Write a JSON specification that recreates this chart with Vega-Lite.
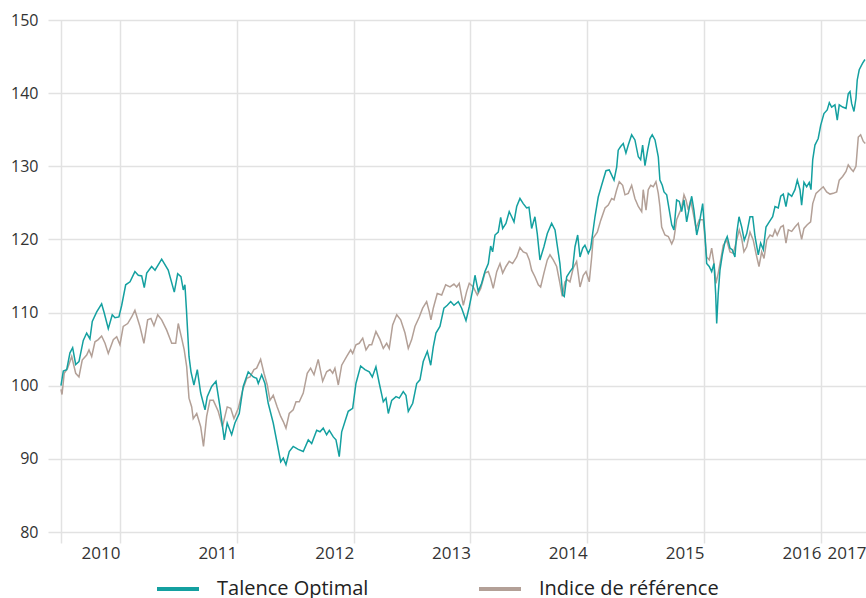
{
"$schema": "https://vega.github.io/schema/vega-lite/v6.json",
"width": 818,
"height": 512,
"autosize": {"type": "none"},
"padding": {"left": 48, "top": 20, "right": 0, "bottom": 66},
"background": "white",
"config": {"view": {"stroke": null}, "font": "Open Sans"},
"datasets": {
"talence": [
{"t":2010.495,"v":100.0},{"t":2010.515,"v":102.0},{"t":2010.544,"v":102.2},{"t":2010.572,"v":104.5},{"t":2010.595,"v":105.2},{"t":2010.621,"v":102.9},{"t":2010.649,"v":103.3},{"t":2010.686,"v":106.2},{"t":2010.715,"v":107.2},{"t":2010.743,"v":106.4},{"t":2010.763,"v":108.8},{"t":2010.801,"v":110.1},{"t":2010.843,"v":111.2},{"t":2010.866,"v":109.9},{"t":2010.900,"v":107.8},{"t":2010.934,"v":109.7},{"t":2010.957,"v":109.3},{"t":2010.991,"v":109.4},
{"t":2011.015,"v":111.0},{"t":2011.049,"v":113.8},{"t":2011.086,"v":114.2},{"t":2011.128,"v":115.6},{"t":2011.157,"v":115.1},{"t":2011.186,"v":115.0},{"t":2011.208,"v":113.4},{"t":2011.229,"v":115.4},{"t":2011.271,"v":116.3},{"t":2011.300,"v":115.8},{"t":2011.357,"v":117.3},{"t":2011.413,"v":115.8},{"t":2011.465,"v":112.8},{"t":2011.494,"v":115.3},{"t":2011.522,"v":114.9},{"t":2011.542,"v":113.1},{"t":2011.556,"v":113.8},{"t":2011.569,"v":110.4},{"t":2011.591,"v":104.0},{"t":2011.608,"v":101.9},{"t":2011.633,"v":100.1},{"t":2011.662,"v":102.2},{"t":2011.691,"v":99.0},{"t":2011.728,"v":96.7},{"t":2011.747,"v":98.5},{"t":2011.785,"v":99.9},{"t":2011.822,"v":100.6},{"t":2011.856,"v":97.1},{"t":2011.893,"v":92.6},{"t":2011.918,"v":94.9},{"t":2011.956,"v":93.3},{"t":2011.984,"v":94.9},
{"t":2012.021,"v":96.2},{"t":2012.055,"v":99.9},{"t":2012.098,"v":101.9},{"t":2012.141,"v":101.2},{"t":2012.170,"v":101.0},{"t":2012.184,"v":100.3},{"t":2012.213,"v":101.5},{"t":2012.241,"v":100.3},{"t":2012.269,"v":97.6},{"t":2012.312,"v":94.9},{"t":2012.346,"v":92.1},{"t":2012.376,"v":89.6},{"t":2012.398,"v":90.1},{"t":2012.421,"v":89.2},{"t":2012.449,"v":91.0},{"t":2012.483,"v":91.7},{"t":2012.526,"v":91.3},{"t":2012.569,"v":91.0},{"t":2012.612,"v":92.6},{"t":2012.641,"v":92.1},{"t":2012.684,"v":93.9},{"t":2012.712,"v":93.7},{"t":2012.740,"v":94.2},{"t":2012.769,"v":93.3},{"t":2012.792,"v":93.9},{"t":2012.826,"v":93.0},{"t":2012.849,"v":92.6},{"t":2012.877,"v":90.3},{"t":2012.898,"v":93.7},{"t":2012.926,"v":95.1},{"t":2012.954,"v":96.5},{"t":2012.992,"v":96.9},
{"t":2013.020,"v":100.3},{"t":2013.060,"v":102.7},{"t":2013.097,"v":102.2},{"t":2013.134,"v":101.9},{"t":2013.160,"v":101.2},{"t":2013.191,"v":102.6},{"t":2013.220,"v":100.3},{"t":2013.254,"v":97.8},{"t":2013.277,"v":98.3},{"t":2013.297,"v":96.2},{"t":2013.326,"v":98.0},{"t":2013.363,"v":98.5},{"t":2013.391,"v":98.3},{"t":2013.425,"v":99.2},{"t":2013.448,"v":98.7},{"t":2013.468,"v":96.5},{"t":2013.506,"v":97.6},{"t":2013.540,"v":100.3},{"t":2013.568,"v":100.8},{"t":2013.596,"v":103.3},{"t":2013.631,"v":104.7},{"t":2013.660,"v":102.8},{"t":2013.682,"v":105.3},{"t":2013.705,"v":107.2},{"t":2013.739,"v":108.1},{"t":2013.773,"v":110.6},{"t":2013.802,"v":111.0},{"t":2013.831,"v":111.5},{"t":2013.859,"v":111.0},{"t":2013.896,"v":111.5},{"t":2013.925,"v":110.6},{"t":2013.962,"v":108.9},{"t":2013.990,"v":110.8},
{"t":2014.019,"v":113.1},{"t":2014.039,"v":115.1},{"t":2014.067,"v":112.9},{"t":2014.096,"v":114.0},{"t":2014.124,"v":115.6},{"t":2014.153,"v":116.7},{"t":2014.173,"v":119.1},{"t":2014.190,"v":118.3},{"t":2014.210,"v":120.6},{"t":2014.238,"v":121.0},{"t":2014.259,"v":123.0},{"t":2014.276,"v":121.5},{"t":2014.304,"v":122.2},{"t":2014.332,"v":123.8},{"t":2014.353,"v":123.1},{"t":2014.373,"v":122.4},{"t":2014.396,"v":124.5},{"t":2014.424,"v":125.6},{"t":2014.452,"v":124.9},{"t":2014.481,"v":124.3},{"t":2014.501,"v":124.4},{"t":2014.524,"v":121.5},{"t":2014.552,"v":123.1},{"t":2014.572,"v":120.8},{"t":2014.595,"v":117.2},{"t":2014.629,"v":119.0},{"t":2014.658,"v":120.8},{"t":2014.695,"v":122.2},{"t":2014.724,"v":121.3},{"t":2014.743,"v":119.2},{"t":2014.766,"v":116.7},{"t":2014.790,"v":112.4},{"t":2014.803,"v":112.2},{"t":2014.824,"v":114.9},{"t":2014.852,"v":115.6},{"t":2014.875,"v":116.1},{"t":2014.895,"v":119.0},{"t":2014.918,"v":120.6},{"t":2014.938,"v":117.6},{"t":2014.961,"v":118.8},{"t":2014.980,"v":119.2},
{"t":2015.009,"v":118.1},{"t":2015.029,"v":118.8},{"t":2015.066,"v":123.1},{"t":2015.094,"v":125.8},{"t":2015.123,"v":127.4},{"t":2015.160,"v":129.4},{"t":2015.188,"v":129.5},{"t":2015.229,"v":128.1},{"t":2015.252,"v":129.9},{"t":2015.265,"v":132.2},{"t":2015.286,"v":132.7},{"t":2015.308,"v":133.1},{"t":2015.331,"v":131.8},{"t":2015.351,"v":132.9},{"t":2015.380,"v":134.3},{"t":2015.408,"v":133.6},{"t":2015.437,"v":131.3},{"t":2015.457,"v":130.9},{"t":2015.474,"v":132.9},{"t":2015.494,"v":130.1},{"t":2015.517,"v":132.2},{"t":2015.537,"v":133.8},{"t":2015.556,"v":134.3},{"t":2015.580,"v":133.6},{"t":2015.608,"v":131.3},{"t":2015.622,"v":128.1},{"t":2015.642,"v":127.4},{"t":2015.657,"v":126.5},{"t":2015.680,"v":126.1},{"t":2015.702,"v":124.0},{"t":2015.723,"v":122.0},{"t":2015.742,"v":121.3},{"t":2015.765,"v":125.4},{"t":2015.788,"v":125.2},{"t":2015.808,"v":123.8},{"t":2015.828,"v":125.4},{"t":2015.851,"v":122.4},{"t":2015.873,"v":124.3},{"t":2015.894,"v":125.9},{"t":2015.913,"v":124.0},{"t":2015.937,"v":120.6},{"t":2015.959,"v":122.2},{"t":2015.988,"v":124.9},
{"t":2016.008,"v":120.6},{"t":2016.022,"v":116.7},{"t":2016.044,"v":116.3},{"t":2016.065,"v":115.6},{"t":2016.085,"v":116.7},{"t":2016.099,"v":112.6},{"t":2016.108,"v":108.5},{"t":2016.121,"v":112.6},{"t":2016.136,"v":115.8},{"t":2016.156,"v":117.9},{"t":2016.179,"v":119.7},{"t":2016.198,"v":120.4},{"t":2016.222,"v":118.8},{"t":2016.241,"v":118.6},{"t":2016.264,"v":117.6},{"t":2016.279,"v":120.8},{"t":2016.299,"v":123.1},{"t":2016.322,"v":121.7},{"t":2016.344,"v":119.9},{"t":2016.365,"v":120.8},{"t":2016.393,"v":123.1},{"t":2016.416,"v":123.1},{"t":2016.436,"v":120.4},{"t":2016.464,"v":117.9},{"t":2016.484,"v":119.5},{"t":2016.507,"v":118.6},{"t":2016.530,"v":121.7},{"t":2016.558,"v":122.4},{"t":2016.587,"v":123.1},{"t":2016.607,"v":124.5},{"t":2016.635,"v":124.3},{"t":2016.656,"v":125.9},{"t":2016.678,"v":126.2},{"t":2016.701,"v":124.5},{"t":2016.721,"v":126.3},{"t":2016.750,"v":125.9},{"t":2016.778,"v":126.8},{"t":2016.798,"v":128.1},{"t":2016.821,"v":126.8},{"t":2016.835,"v":124.7},{"t":2016.855,"v":127.8},{"t":2016.878,"v":127.2},{"t":2016.900,"v":127.8},{"t":2016.915,"v":126.8},{"t":2016.930,"v":130.9},{"t":2016.949,"v":132.9},{"t":2016.977,"v":133.8},{"t":2016.998,"v":135.6},
{"t":2017.026,"v":137.2},{"t":2017.054,"v":137.7},{"t":2017.072,"v":138.7},{"t":2017.092,"v":138.1},{"t":2017.120,"v":138.4},{"t":2017.140,"v":136.3},{"t":2017.157,"v":138.4},{"t":2017.186,"v":138.1},{"t":2017.215,"v":137.9},{"t":2017.234,"v":139.9},{"t":2017.249,"v":140.2},{"t":2017.263,"v":138.6},{"t":2017.283,"v":137.5},{"t":2017.300,"v":139.3},{"t":2017.311,"v":141.8},{"t":2017.328,"v":143.2},{"t":2017.357,"v":144.1},{"t":2017.377,"v":144.6}
],
"indice": [
{"t":2010.495,"v":99.5},{"t":2010.504,"v":98.8},{"t":2010.523,"v":101.7},{"t":2010.552,"v":102.4},{"t":2010.587,"v":104.0},{"t":2010.621,"v":101.7},{"t":2010.649,"v":101.2},{"t":2010.677,"v":103.5},{"t":2010.715,"v":104.2},{"t":2010.735,"v":104.9},{"t":2010.758,"v":104.0},{"t":2010.786,"v":106.0},{"t":2010.814,"v":106.3},{"t":2010.843,"v":106.8},{"t":2010.872,"v":105.8},{"t":2010.900,"v":104.4},{"t":2010.943,"v":106.3},{"t":2010.972,"v":106.7},
{"t":2011.000,"v":105.6},{"t":2011.028,"v":108.1},{"t":2011.066,"v":108.5},{"t":2011.100,"v":109.4},{"t":2011.128,"v":110.3},{"t":2011.171,"v":108.1},{"t":2011.205,"v":105.8},{"t":2011.237,"v":109.0},{"t":2011.265,"v":109.2},{"t":2011.291,"v":108.2},{"t":2011.323,"v":109.7},{"t":2011.357,"v":109.0},{"t":2011.400,"v":107.6},{"t":2011.443,"v":105.8},{"t":2011.477,"v":105.8},{"t":2011.499,"v":108.5},{"t":2011.528,"v":106.5},{"t":2011.550,"v":104.9},{"t":2011.571,"v":102.6},{"t":2011.591,"v":98.3},{"t":2011.614,"v":97.1},{"t":2011.627,"v":95.5},{"t":2011.657,"v":96.2},{"t":2011.691,"v":94.4},{"t":2011.715,"v":91.7},{"t":2011.742,"v":95.8},{"t":2011.770,"v":98.0},{"t":2011.799,"v":98.0},{"t":2011.841,"v":96.5},{"t":2011.877,"v":94.4},{"t":2011.918,"v":97.1},{"t":2011.948,"v":96.9},{"t":2011.976,"v":95.5},
{"t":2012.013,"v":96.9},{"t":2012.050,"v":99.4},{"t":2012.085,"v":101.0},{"t":2012.113,"v":101.2},{"t":2012.147,"v":102.2},{"t":2012.170,"v":102.4},{"t":2012.204,"v":103.6},{"t":2012.233,"v":101.7},{"t":2012.261,"v":100.1},{"t":2012.284,"v":98.0},{"t":2012.312,"v":98.7},{"t":2012.346,"v":97.1},{"t":2012.376,"v":95.8},{"t":2012.398,"v":95.1},{"t":2012.421,"v":94.2},{"t":2012.449,"v":96.2},{"t":2012.483,"v":96.7},{"t":2012.507,"v":97.8},{"t":2012.535,"v":97.8},{"t":2012.569,"v":99.0},{"t":2012.603,"v":101.7},{"t":2012.632,"v":102.4},{"t":2012.661,"v":101.5},{"t":2012.697,"v":103.6},{"t":2012.735,"v":100.6},{"t":2012.769,"v":101.9},{"t":2012.798,"v":102.2},{"t":2012.821,"v":101.7},{"t":2012.840,"v":102.4},{"t":2012.869,"v":100.1},{"t":2012.898,"v":102.8},{"t":2012.941,"v":104.0},{"t":2012.975,"v":104.9},{"t":2012.992,"v":104.4},
{"t":2013.020,"v":105.6},{"t":2013.048,"v":105.8},{"t":2013.078,"v":106.5},{"t":2013.106,"v":104.9},{"t":2013.134,"v":105.6},{"t":2013.155,"v":105.6},{"t":2013.191,"v":107.4},{"t":2013.226,"v":106.3},{"t":2013.254,"v":105.1},{"t":2013.283,"v":105.8},{"t":2013.305,"v":105.1},{"t":2013.334,"v":108.3},{"t":2013.369,"v":109.7},{"t":2013.403,"v":109.0},{"t":2013.440,"v":107.2},{"t":2013.468,"v":105.1},{"t":2013.497,"v":106.3},{"t":2013.525,"v":108.1},{"t":2013.562,"v":109.4},{"t":2013.591,"v":110.6},{"t":2013.625,"v":111.5},{"t":2013.648,"v":110.1},{"t":2013.662,"v":109.0},{"t":2013.682,"v":110.6},{"t":2013.716,"v":112.6},{"t":2013.754,"v":112.4},{"t":2013.788,"v":113.8},{"t":2013.825,"v":113.5},{"t":2013.859,"v":113.9},{"t":2013.882,"v":113.5},{"t":2013.904,"v":114.0},{"t":2013.939,"v":111.0},{"t":2013.968,"v":112.9},{"t":2013.990,"v":114.0},
{"t":2014.024,"v":113.5},{"t":2014.059,"v":112.4},{"t":2014.088,"v":113.3},{"t":2014.124,"v":115.4},{"t":2014.153,"v":115.6},{"t":2014.173,"v":114.7},{"t":2014.195,"v":113.3},{"t":2014.225,"v":115.6},{"t":2014.253,"v":116.7},{"t":2014.276,"v":115.4},{"t":2014.304,"v":116.3},{"t":2014.332,"v":117.0},{"t":2014.361,"v":116.7},{"t":2014.396,"v":117.6},{"t":2014.424,"v":118.9},{"t":2014.452,"v":118.3},{"t":2014.481,"v":118.1},{"t":2014.504,"v":117.2},{"t":2014.524,"v":115.8},{"t":2014.552,"v":114.9},{"t":2014.581,"v":113.8},{"t":2014.601,"v":113.5},{"t":2014.629,"v":115.4},{"t":2014.658,"v":117.2},{"t":2014.681,"v":117.9},{"t":2014.709,"v":117.2},{"t":2014.738,"v":116.3},{"t":2014.766,"v":114.0},{"t":2014.786,"v":112.2},{"t":2014.809,"v":114.2},{"t":2014.829,"v":114.5},{"t":2014.852,"v":114.2},{"t":2014.880,"v":116.1},{"t":2014.909,"v":117.0},{"t":2014.938,"v":113.5},{"t":2014.966,"v":115.1},{"t":2014.989,"v":115.6},
{"t":2015.017,"v":114.2},{"t":2015.038,"v":117.6},{"t":2015.051,"v":120.2},{"t":2015.086,"v":121.0},{"t":2015.115,"v":122.6},{"t":2015.152,"v":124.3},{"t":2015.180,"v":124.7},{"t":2015.209,"v":125.6},{"t":2015.229,"v":125.4},{"t":2015.252,"v":126.8},{"t":2015.274,"v":127.9},{"t":2015.303,"v":127.4},{"t":2015.323,"v":126.1},{"t":2015.351,"v":126.3},{"t":2015.380,"v":127.4},{"t":2015.408,"v":125.6},{"t":2015.437,"v":124.5},{"t":2015.466,"v":123.8},{"t":2015.479,"v":126.8},{"t":2015.503,"v":124.0},{"t":2015.522,"v":126.8},{"t":2015.543,"v":127.4},{"t":2015.565,"v":127.2},{"t":2015.588,"v":127.9},{"t":2015.608,"v":126.3},{"t":2015.622,"v":124.5},{"t":2015.637,"v":121.7},{"t":2015.665,"v":120.6},{"t":2015.694,"v":120.4},{"t":2015.723,"v":119.4},{"t":2015.742,"v":120.1},{"t":2015.765,"v":122.7},{"t":2015.788,"v":123.6},{"t":2015.808,"v":124.3},{"t":2015.828,"v":126.1},{"t":2015.845,"v":125.4},{"t":2015.865,"v":124.0},{"t":2015.885,"v":125.4},{"t":2015.907,"v":123.6},{"t":2015.931,"v":121.5},{"t":2015.959,"v":122.7},{"t":2015.993,"v":122.7},
{"t":2016.022,"v":117.6},{"t":2016.044,"v":117.2},{"t":2016.065,"v":118.8},{"t":2016.085,"v":116.7},{"t":2016.102,"v":114.0},{"t":2016.121,"v":115.4},{"t":2016.142,"v":117.2},{"t":2016.164,"v":119.2},{"t":2016.193,"v":119.9},{"t":2016.222,"v":118.3},{"t":2016.250,"v":118.1},{"t":2016.279,"v":119.9},{"t":2016.301,"v":121.3},{"t":2016.322,"v":120.1},{"t":2016.341,"v":118.3},{"t":2016.365,"v":119.0},{"t":2016.393,"v":121.0},{"t":2016.421,"v":119.9},{"t":2016.444,"v":118.1},{"t":2016.470,"v":116.3},{"t":2016.493,"v":118.3},{"t":2016.513,"v":117.4},{"t":2016.536,"v":119.9},{"t":2016.564,"v":120.6},{"t":2016.587,"v":120.4},{"t":2016.607,"v":121.3},{"t":2016.626,"v":120.6},{"t":2016.656,"v":121.7},{"t":2016.678,"v":121.9},{"t":2016.701,"v":119.5},{"t":2016.721,"v":121.3},{"t":2016.750,"v":121.1},{"t":2016.778,"v":121.7},{"t":2016.806,"v":122.2},{"t":2016.835,"v":120.0},{"t":2016.855,"v":121.5},{"t":2016.883,"v":122.0},{"t":2016.912,"v":122.4},{"t":2016.930,"v":124.9},{"t":2016.958,"v":126.3},{"t":2016.992,"v":126.8},
{"t":2017.020,"v":127.2},{"t":2017.049,"v":126.5},{"t":2017.078,"v":126.2},{"t":2017.106,"v":126.3},{"t":2017.135,"v":126.5},{"t":2017.157,"v":128.1},{"t":2017.186,"v":128.6},{"t":2017.215,"v":129.3},{"t":2017.234,"v":130.2},{"t":2017.255,"v":129.7},{"t":2017.277,"v":129.3},{"t":2017.300,"v":130.0},{"t":2017.320,"v":134.0},{"t":2017.340,"v":134.3},{"t":2017.363,"v":133.4},{"t":2017.380,"v":133.1}
]
},
"layer": [
{
"data": {"name": "indice"},
"mark": {"type": "line", "strokeWidth": 1.5},
"encoding": {
"x": {"field": "t", "type": "quantitative",
"scale": {"domain": [2010.384, 2017.386], "nice": false, "zero": false},
"axis": {"title": null, "values": [2010.495, 2011, 2012, 2013, 2014, 2015, 2016, 2017, 2017.386],
"labelExpr": "datum.value < 2010.6 ? '' : (datum.value > 2017.3 ? '2017' : toString(datum.value - 1))",
"labelAlign": "right", "labelDx": -4, "labelFontSize": 17, "labelColor": "#333333", "labelPadding": 2,
"labelFlush": false, "labelOverlap": false, "labelBound": false,
"tickSize": 11, "tickWidth": 1.5, "gridWidth": 1.5, "domain": false,
"tickColor": {"condition": {"test": "datum.value > 2017.3", "value": "transparent"}, "value": "#e2e2e2"},
"gridColor": {"condition": {"test": "datum.value > 2017.3", "value": "transparent"}, "value": "#e2e2e2"}}},
"y": {"field": "v", "type": "quantitative",
"scale": {"domain": [80, 150], "nice": false, "zero": false},
"axis": {"title": null, "values": [80, 90, 100, 110, 120, 130, 140, 150], "ticks": false, "domain": false,
"labelFontSize": 16, "labelColor": "#333333", "labelPadding": 10, "gridColor": "#e2e2e2", "gridWidth": 1.5}},
"color": {"datum": "Indice de référence", "type": "nominal",
"scale": {"domain": ["Talence Optimal", "Indice de référence"], "range": ["#14a0a0", "#b3a097"]},
"legend": {"title": null, "orient": "none", "direction": "horizontal", "legendX": 107, "legendY": 546,
"symbolType": "stroke", "symbolSize": 1764, "symbolStrokeWidth": 4, "labelFontSize": 20, "labelColor": "#222222",
"labelOffset": 16, "columnPadding": 102, "labelLimit": 400,
"encode": {"symbols": {"update": {"stroke": {"scale": "color", "field": "value"}, "strokeWidth": {"value": 4}, "opacity": {"value": 1}}}}}}
}
},
{
"data": {"name": "talence"},
"mark": {"type": "line", "strokeWidth": 1.5},
"encoding": {
"x": {"field": "t", "type": "quantitative"},
"y": {"field": "v", "type": "quantitative"},
"color": {"datum": "Talence Optimal", "type": "nominal"}
}
}
]
}
